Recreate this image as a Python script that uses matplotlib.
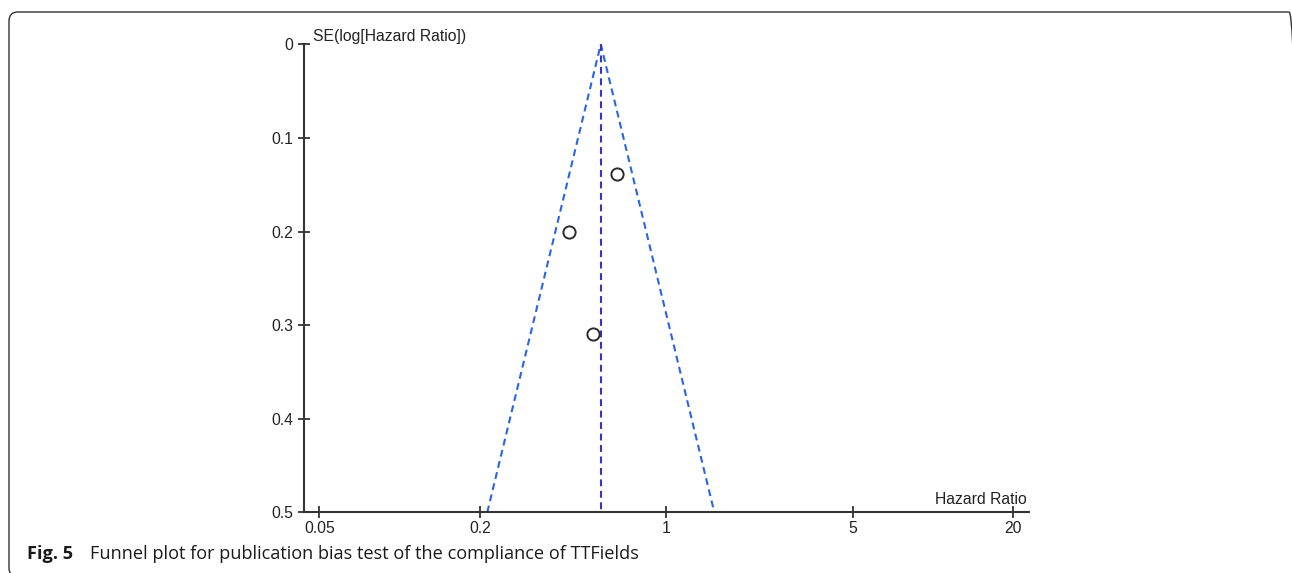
import matplotlib
matplotlib.use("Agg")
import matplotlib.pyplot as plt
from matplotlib.patches import FancyBboxPatch
import numpy as np

# study estimates
hazard_ratio = [0.656, 0.431, 0.533]
se_log_hr = [0.139, 0.200, 0.310]
pooled_hr = 0.568
se_max = 0.5

x_ticks = [0.05, 0.2, 1, 5, 20]
x_tick_labels = ["0.05", "0.2", "1", "5", "20"]
y_ticks = [0, 0.1, 0.2, 0.3, 0.4, 0.5]
y_tick_labels = ["0", "0.1", "0.2", "0.3", "0.4", "0.5"]

W, H = 1292, 573
fig = plt.figure(figsize=(W / 100, H / 100), dpi=100)

# axes placed to match the reference pixel layout
ax_l, ax_r, ax_t, ax_b = 304.3, 1029, 44.3, 512.3
ax = fig.add_axes([ax_l / W, 1 - ax_b / H, (ax_r - ax_l) / W, (ax_b - ax_t) / H])
ax.patch.set_alpha(0)

# funnel (95% pseudo confidence limits) and pooled line
lo = pooled_hr * np.exp(-1.96 * se_max)
hi = pooled_hr * np.exp(1.96 * se_max)
ax.plot([lo, pooled_hr, hi], [se_max, 0, se_max], color="#2a63e6", lw=1.5,
        dashes=(3.3, 2.2), zorder=2)
ax.plot([pooled_hr, pooled_hr], [0, se_max], color="#3434c8", lw=1.5,
        dashes=(3.3, 2.2), zorder=2)

# studies
ax.plot(hazard_ratio, se_log_hr, "o", ms=8.8, mfc="white", mec="#2b2b2b",
        mew=1.4, zorder=3)

ax.set_xscale("log")
ax.set_xlim(0.04393, 22.9)
ax.set_ylim(0.5, 0)
ax.set_xticks(x_ticks)
ax.set_xticklabels(x_tick_labels)
ax.minorticks_off()
ax.set_yticks(y_ticks)
ax.set_yticklabels(y_tick_labels)

for s in ["top", "right"]:
    ax.spines[s].set_visible(False)
for s in ["left", "bottom"]:
    ax.spines[s].set_color("#333333")
    ax.spines[s].set_linewidth(1.5)

tick_font = "Liberation Sans"
ax.tick_params(axis="both", direction="inout", length=8, width=1.3,
               colors="#333333", labelcolor="#222222", labelsize=11.3)
ax.tick_params(axis="x", pad=2)
ax.tick_params(axis="y", pad=4)
for lab in ax.get_xticklabels() + ax.get_yticklabels():
    lab.set_fontfamily(tick_font)

fig.text(312.7 / W, 1 - 37 / H, "SE(log[Hazard Ratio])", ha="left",
         va="center", fontsize=11.3, family=tick_font, color="#222222")
fig.text(1027 / W, 1 - 500 / H, "Hazard Ratio", ha="right", va="center",
         fontsize=11.3, family=tick_font, color="#222222")

# caption
fig.text(27 / W, 1 - 554 / H, "Fig. 5", ha="left", va="center", fontsize=13.1,
         family="Open Sans", fontweight="bold", color="#1a1a1a")
fig.text(90 / W, 1 - 554 / H,
         "Funnel plot for publication bias test of the compliance of TTFields",
         ha="left", va="center", fontsize=13.1, family="Open Sans",
         color="#1a1a1a")

# rounded frame around the figure (inches, so the corner stays round)
frame = FancyBboxPatch((9 / 100, -4 / 100), (1298 - 9) / 100, (H - 12 + 4) / 100,
                       boxstyle="round,pad=0,rounding_size=0.09",
                       transform=fig.dpi_scale_trans, fill=False,
                       edgecolor="#333333", lw=1.0)
fig.patches.append(frame)

fig.savefig("out.png", dpi=100)
